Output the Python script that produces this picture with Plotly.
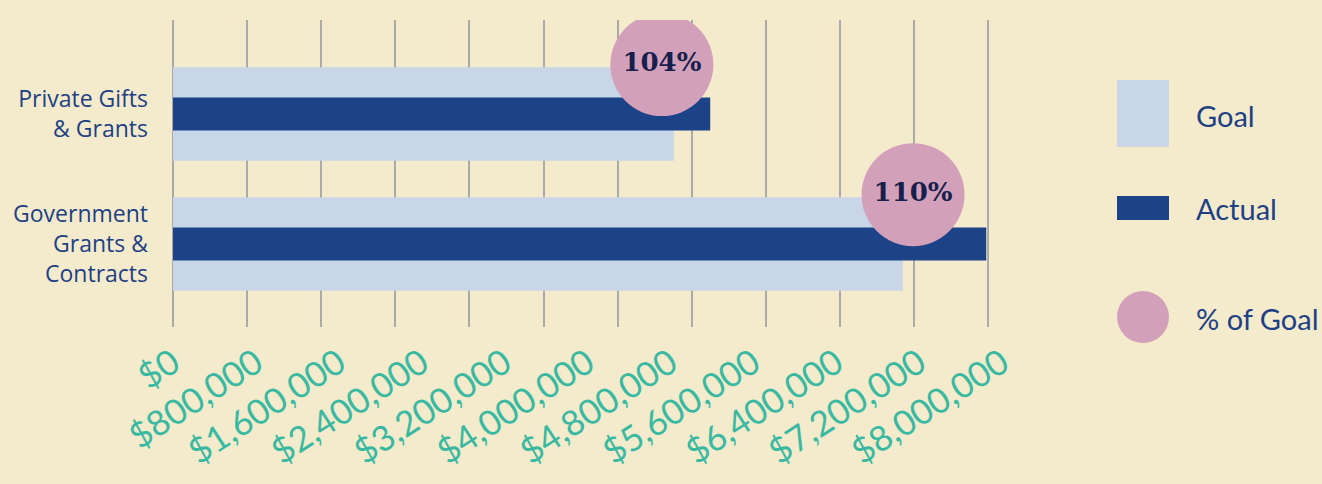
import plotly.graph_objects as go

# ---- data ----
categories = ["Private Gifts<br>& Grants", "Government<br>Grants &<br>Contracts"]
goal = [5410000, 7880000]
actual = [5800000, 8780000]
pct_labels = ["104%", "110%"]
tick_values = [0, 800000, 1600000, 2400000, 3200000, 4000000, 4800000,
               5600000, 6400000, 7200000, 8000000]
legend_labels = ["Goal", "Actual", "% of Goal"]

# ---- style ----
BG = "#f4ebcc"
GOAL_C = "#c8d6e8"
ACT_C = "#1c4287"
PCT_C = "#d3a0ba"
TXT_C = "#1e4185"
TICK_C = "#3ab9a2"
GRID_C = "#aaaaaa"
SANS = "Lato"

W, H = 1322, 484
L, R, T, B = 173, 312, 20, 157
PW, PH = W - L - R, H - T - B

ypos = list(range(len(categories)))

fig = go.Figure()
fig.add_trace(go.Bar(x=goal, y=ypos, orientation="h", width=0.72,
                     marker=dict(color=GOAL_C, line_width=0), name="Goal",
                     hoverinfo="x"))
fig.add_trace(go.Bar(x=actual, y=ypos, orientation="h", width=0.254,
                     marker=dict(color=ACT_C, line_width=0), name="Actual",
                     hoverinfo="x"))
fig.add_trace(go.Scatter(
    x=[a * 0.91 for a in actual], y=[p - 0.38 for p in ypos],
    mode="markers+text", text=pct_labels, textposition="middle center",
    marker=dict(size=103, color=PCT_C, line_width=0),
    textfont=dict(family="DejaVu Serif", size=26, color="#17204d", weight="bold"),
    name="% of Goal", hoverinfo="text"))
# invisible trace for the label axis
fig.add_trace(go.Scatter(x=[tick_values[0]], y=[0], xaxis="x2", mode="markers",
                         marker=dict(opacity=0), showlegend=False, hoverinfo="skip"))

px_per_800k = 74.1
main_max = PW / px_per_800k * 800000
label_max = PW / (1002.5 - 173.5) * 8000000

fig.update_layout(
    width=W, height=H, margin=dict(l=L, r=R, t=T, b=B, autoexpand=False),
    paper_bgcolor=BG, plot_bgcolor=BG, barmode="overlay", showlegend=False,
    xaxis=dict(range=[0, main_max], tick0=0, dtick=800000, showticklabels=False,
               showgrid=True, gridcolor=GRID_C, gridwidth=1.5,
               zeroline=True, zerolinecolor=GRID_C, zerolinewidth=1.5,
               showline=False, ticks="", automargin=False),
    xaxis2=dict(overlaying="x", anchor="y", side="bottom", range=[0, label_max],
                tickmode="array", tickvals=tick_values,
                ticktext=["${:,}".format(v) for v in tick_values],
                tickangle=-33, tickfont=dict(family=SANS, size=35, color=TICK_C),
                showgrid=False, zeroline=False, showline=False, ticks="",
                ticklabelstandoff=8, automargin=False),
    yaxis=dict(range=[1.638, -0.723], tickmode="array", tickvals=ypos,
               ticktext=categories, showgrid=False, zeroline=False,
               tickfont=dict(family="Open Sans", size=23, color=TXT_C),
               ticks="", ticklabelstandoff=24, automargin=False),
)

def px2x(px):
    return (px - L) / PW

def px2y(py):
    return (H - B - py) / PH

# ---- custom legend ----
fig.add_shape(type="rect", xref="paper", yref="paper",
              x0=px2x(1117), x1=px2x(1169), y0=px2y(147), y1=px2y(80),
              fillcolor=GOAL_C, line_width=0)
fig.add_shape(type="rect", xref="paper", yref="paper",
              x0=px2x(1117), x1=px2x(1169), y0=px2y(220), y1=px2y(196),
              fillcolor=ACT_C, line_width=0)
fig.add_shape(type="circle", xref="paper", yref="paper",
              x0=px2x(1117), x1=px2x(1169), y0=px2y(343), y1=px2y(291),
              fillcolor=PCT_C, line_width=0)
for lab, yc in zip(legend_labels, [115, 208, 318]):
    fig.add_annotation(text=lab, xref="paper", yref="paper", x=px2x(1194), y=px2y(yc),
                       xanchor="left", yanchor="middle", showarrow=False,
                       font=dict(family=SANS, size=29, color=TXT_C))

fig.write_html("out.html", config={"displayModeBar": False},
               post_script="document.body.style.margin='0';document.body.style.padding='0';"
                           "document.body.style.background='" + BG + "';")
